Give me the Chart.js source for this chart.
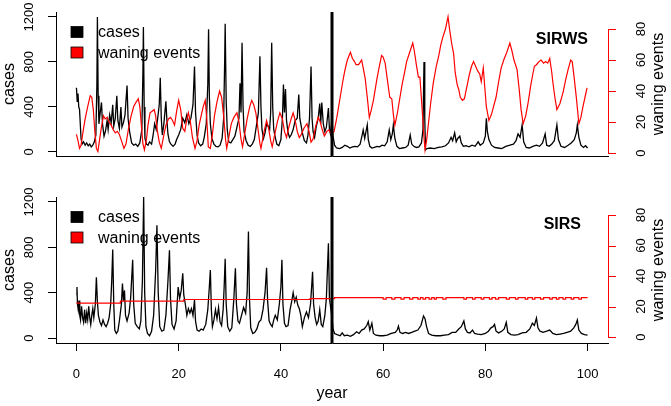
<!DOCTYPE html>
<html>
<head>
<meta charset="utf-8">
<script src="https://cdn.jsdelivr.net/npm/chart.js@4/dist/chart.umd.min.js"></script>
<style>
  body { margin: 0; background: #fff; }
  #wrap { position: relative; width: 671px; height: 406px; }
  canvas { position: absolute; left: 0; }
</style>
</head>
<body>
<div id="wrap">
  <canvas id="top" width="671" height="180" style="top:0"></canvas>
  <canvas id="bottom" width="671" height="226" style="top:180px"></canvas>
</div>
<script>
// ─── Data ────────────────────────────────────────────────────────────────────
const yearTicks = [0, 20, 40, 60, 80, 100];
const caseTicks = [0, 400, 800, 1200];
const waneTicks = [0, 20, 40, 60, 80];
const switchYear = 50;

// SIRWS panel
const sirwsYears = [0,0.15,0.3,0.45,0.6,0.75,0.9,1.1,1.4,1.7,2,2.3,2.6,2.9,3.2,3.5,3.8,4,4.1,4.25,4.4,4.6,4.9,5.1,5.4,5.7,6,6.2,6.5,6.8,7.1,7.3,7.6,7.9,8.1,8.4,8.7,8.9,9.2,9.5,9.9,10.1,10.4,10.8,11.2,11.6,12,12.4,12.8,13,13.1,13.25,13.4,13.7,14,14.3,14.7,15,15.3,15.6,15.9,16.2,16.4,16.6,16.8,17.1,17.5,17.7,17.9,18.2,18.5,18.9,19.3,19.6,20,20.4,20.8,21.2,21.6,22,22.4,22.8,23.1,23.3,23.6,23.9,24.3,24.7,25,25.4,25.7,25.85,26,26.2,26.5,26.9,27.3,27.7,28.1,28.5,28.8,29,29.1,29.3,29.5,29.8,30.2,30.6,31,31.4,31.8,32,32.2,32.4,32.6,32.8,33.2,33.6,34,34.4,34.8,35.2,35.6,35.9,36.1,36.3,36.6,36.9,37.2,37.5,37.8,38,38.2,38.4,38.6,38.9,39.2,39.6,40,40.3,40.5,40.7,40.9,41.1,41.4,41.7,42,42.4,42.8,43.2,43.5,43.7,43.9,44.2,44.6,45,45.3,45.6,45.9,46.1,46.3,46.6,46.9,47.3,47.6,47.8,48,48.3,48.6,48.9,49.3,49.5,49.7,50,50.2,50.5,50.9,51.5,52,52.5,53,53.5,54,54.5,55,55.5,55.9,56.1,56.4,56.6,56.9,57.1,57.4,57.8,58.3,58.8,59.3,59.8,60.3,60.8,61.2,61.5,61.8,62,62.3,62.7,63.2,63.8,64.4,64.9,65.3,65.6,66,66.5,67,67.5,67.8,68,68.15,68.3,68.6,69.2,70,70.8,71.5,72.2,72.8,73.3,73.6,74,74.3,74.6,75,75.3,75.7,76.2,76.8,77.4,78,78.6,79,79.6,80,80.2,80.4,80.7,81.2,81.8,82.5,83.2,84,84.8,85.5,86,86.4,86.8,87.2,87.5,88,88.6,89.3,90,90.6,91.2,91.7,92,92.5,93,93.5,94,94.3,94.8,95.5,96.2,96.8,97.4,97.8,98,98.3,98.7,99.2,99.6,100];
const sirwsCases = [570,450,520,400,380,250,120,70,90,60,80,55,70,45,60,90,150,600,1200,500,250,330,440,250,140,190,280,200,330,260,420,230,300,500,280,210,400,220,260,330,590,300,180,80,60,70,50,80,200,700,1110,400,120,70,60,90,70,150,250,200,300,420,660,300,150,250,450,280,160,90,70,50,70,110,150,200,300,260,330,250,300,420,760,350,150,80,55,70,130,250,600,1090,500,250,120,70,50,45,60,120,300,800,1140,450,200,90,80,110,140,220,300,610,350,970,400,180,100,60,50,70,110,230,350,850,400,200,120,170,250,230,200,350,970,400,200,130,70,55,110,300,600,350,560,280,170,130,150,200,280,300,510,300,250,170,100,80,150,300,760,300,180,130,220,300,430,250,440,250,180,220,390,200,160,300,140,60,35,30,40,60,50,35,45,50,45,70,150,195,120,170,240,110,50,35,40,50,45,60,55,90,195,110,160,240,120,50,30,35,40,60,150,70,50,40,45,80,200,800,300,20,30,35,30,40,45,55,80,130,100,170,90,120,140,80,50,55,45,60,50,90,60,80,140,300,180,110,60,40,35,30,50,60,70,100,160,130,240,90,40,35,50,60,50,80,160,60,50,70,100,240,110,50,40,60,80,110,170,240,130,60,40,55,35];
const sirwsWaneYears = [0,0.3,0.6,0.9,1.3,1.7,2.2,2.7,3,3.3,3.6,3.9,4.2,4.5,4.9,5.3,5.6,6,6.4,6.8,7.2,7.6,8,8.4,8.8,9.3,9.7,10.2,10.7,11.2,11.7,12.1,12.4,12.7,13,13.3,13.7,14,14.4,14.8,15.2,15.5,15.8,16.2,16.6,17,17.5,18,18.4,18.8,19.2,19.6,20,20.4,20.8,21.2,21.6,21.9,22.3,22.7,23.2,23.6,24,24.4,24.8,25.2,25.5,25.8,26.2,26.6,27,27.5,28,28.4,28.8,29.2,29.4,29.8,30.3,30.8,31.4,31.8,32.2,32.5,32.9,33.4,33.9,34.3,34.7,35.1,35.5,35.9,36.1,36.6,37.2,37.6,38,38.3,38.8,39.3,39.8,40.3,40.7,41.1,41.5,42,42.4,42.8,43.2,43.6,44,44.5,45.1,45.5,45.9,46.3,46.8,47.3,47.7,48.1,48.5,49,49.4,49.7,50,50.4,50.9,51.6,52.1,52.5,53,53.6,54,54.4,54.7,55.2,55.6,55.8,56.1,56.5,56.9,57.3,57.7,58.1,58.5,58.8,59.2,59.7,60,60.4,60.8,61.3,61.7,62,62.3,62.8,63.3,63.7,64.2,64.6,64.9,65.3,65.8,66.1,66.5,66.9,67.2,67.6,68,68.2,68.5,68.8,69.3,69.8,70.4,70.9,71.3,71.7,72.2,72.7,73,73.4,73.8,74.1,74.5,74.8,75.1,75.5,75.9,76.4,76.9,77.3,77.7,78.1,78.5,78.9,79.2,79.6,79.9,80.2,80.7,81.2,81.6,82.1,82.6,83.1,83.6,84.2,84.8,85.2,85.6,86.2,86.6,87,87.4,87.9,88.4,88.9,89.3,89.6,90,90.5,90.9,91.4,91.8,92.2,92.6,93,93.2,93.6,94,94.6,95.2,95.7,96.2,96.7,97,97.4,97.8,98.3,98.7,99.1,99.5,99.9];
const sirwsWane = [12,8,3,5,14,22,30,37,36,28,14,3,1,8,17,24,22,23,20,18,15,13,14,12,8,3,6,16,24,30,33,35,30,18,6,2,9,18,26,27,28,24,15,7,3,10,18,22,23,21,18,27,34,28,16,14,22,26,20,10,3,8,18,24,30,34,22,4,3,12,24,33,40,36,24,8,3,10,19,23,26,20,9,4,12,22,30,34,31,26,16,6,3,12,21,16,8,4,12,20,26,22,14,10,16,22,26,21,14,10,12,16,19,14,7,9,17,23,20,15,11,14,15,13,12.5,14,22,36,46,53,60,65,61,59,57,57,59,60,55,48,36,23,28,34,42,48,55,63,62,58,48,36,35,25,18,26,36,44,52,59,62,66,71,66,57,49,49,30,10,2,8,17,32,45,56,63,70,75,80,88,80,71,64,52,44,41,36,34,35,43,51,56,59,56,53,51,46,55,42,30,21,25,30,36,46,55,60,65,71,66,60,54,42,28,19,24,33,44,51,56,57,59,60,58,59,58,61,52,46,36,28,32,39,47,54,60,59,48,36,19,23,30,36,42];

// SIRS panel
const sirsYears = [0,0.1,0.2,0.35,0.5,0.65,0.8,1,1.2,1.4,1.6,1.8,2,2.2,2.4,2.6,2.8,3,3.2,3.4,3.7,3.9,4.1,4.3,4.6,4.9,5.2,5.5,5.8,6.1,6.4,6.7,6.9,7.1,7.3,7.5,7.8,8.1,8.4,8.8,9,9.2,9.4,9.6,9.9,10.3,10.6,11,11.2,11.5,11.9,12.3,12.6,12.9,13.15,13.35,13.6,13.9,14.3,14.7,15.1,15.5,15.75,16,16.3,16.7,17.1,17.5,17.9,18.2,18.4,18.7,19.1,19.5,19.9,20.2,20.5,20.8,21,21.3,21.6,21.9,22.2,22.5,22.8,23.1,23.3,23.6,24,24.4,24.8,25.3,25.7,26,26.2,26.4,26.6,26.9,27.2,27.5,27.8,28.1,28.4,28.7,28.9,29.1,29.3,29.6,30,30.4,30.8,31.1,31.3,31.6,31.9,32.3,32.7,33.1,33.4,33.65,33.85,34.1,34.5,34.9,35.3,35.7,36.1,36.5,36.9,37.2,37.4,37.7,38,38.3,38.6,38.9,39.3,39.7,40,40.2,40.4,40.7,41,41.4,41.8,42.1,42.4,42.7,43,43.3,43.6,43.9,44.2,44.6,45,45.4,45.8,46.2,46.4,46.7,47,47.3,47.6,47.9,48.2,48.6,48.9,49.1,49.3,49.5,49.8,50,50.2,50.5,51,51.6,52,52.4,53,53.6,54.2,54.8,55.3,55.8,56.3,56.8,57.1,57.4,57.8,58.1,58.6,59.3,60,60.8,61.6,62.4,62.8,63,63.3,63.8,64.4,65,65.6,66.2,66.8,67.4,67.7,67.9,68.2,68.5,68.9,69.5,70.3,71.2,72,72.8,73.5,74.2,74.8,75.3,75.8,76.1,76.5,77,77.5,77.9,78.5,79.2,80,80.6,81.1,81.5,81.8,82.1,82.6,83.2,83.7,84.1,84.4,85,85.7,86.4,87.2,88,88.7,89.2,89.6,90,90.3,90.7,91.3,92,92.6,93.2,93.9,94.6,95.3,96,96.7,97.3,97.7,98,98.3,98.8,99.4,100];
const sirsCases = [380,450,300,250,330,200,160,280,180,140,250,130,220,160,280,180,120,200,260,180,300,535,320,200,140,110,160,120,100,130,180,300,500,780,300,70,40,60,150,300,480,330,420,200,150,220,350,690,300,130,100,80,150,500,1245,400,100,40,20,60,200,600,995,400,100,60,70,200,500,775,350,120,80,150,450,350,420,570,380,300,200,260,220,260,200,335,150,70,60,80,70,120,250,450,600,250,100,160,250,170,270,140,110,250,450,700,300,100,60,90,350,615,300,150,130,200,270,220,400,940,350,90,40,50,80,140,160,250,400,620,330,150,120,100,160,200,160,300,450,690,300,130,100,110,250,320,400,320,360,290,260,200,100,180,230,180,300,585,300,180,120,150,250,120,100,200,350,600,835,350,250,180,80,40,30,20,45,20,25,15,30,55,40,70,80,110,145,70,130,40,25,20,20,25,40,50,75,105,50,40,50,40,50,60,70,110,160,195,170,100,40,25,20,20,25,30,50,50,80,100,150,80,50,45,70,40,35,30,40,60,90,100,120,60,45,60,80,138,50,30,25,30,45,50,80,130,110,175,90,60,50,60,70,40,30,35,40,50,60,90,120,160,70,40,30,25];
const sirsWaneYears = [0,8.6,21,45.7,50.5,60,60.6,61.7,62.3,63.5,64.1,65.2,65.8,66.8,67.3,67.8,68.3,69,69.5,70,70.4,71.7,72.3,75.8,76.3,77.5,78,79.2,79.7,80.8,81.3,82,82.6,84.1,84.7,85.9,86.4,87.8,88.3,89.2,89.7,90.8,91.4,92.6,93.1,93.9,94.4,95.2,95.7,96.8,97.3,98.3,98.8,100];
const sirsWane = [22.3,23.5,24.6,25.2,25.8,24.8,25.8,24.8,25.8,24.8,25.8,24.8,25.8,24.8,25.8,24.8,25.8,24.8,25.8,24.8,25.8,24.8,25.8,24.8,25.8,24.8,25.8,24.8,25.8,24.8,25.8,24.8,25.8,24.8,25.8,24.8,25.8,24.8,25.8,24.8,25.8,24.8,25.8,24.8,25.8,24.8,25.8,24.8,25.8,24.8,25.8,24.8,25.8,25.8];

// ─── Shared styling ──────────────────────────────────────────────────────────
const FONT = "'Liberation Sans', Arial, Helvetica, sans-serif";
const RED  = "#ff0000";

const zip = (xs, ys) => xs.map((x, i) => ({ x, y: ys[i] }));

function upText(ctx, text, x, y, size, bold) {
    // text reading bottom to top, baseline on the right
    ctx.save();
    ctx.translate(x, y);
    ctx.rotate(-Math.PI / 2);
    ctx.font = (bold ? "bold " : "") + size + "px " + FONT;
    ctx.textAlign = "center";
    ctx.textBaseline = "alphabetic";
    ctx.fillText(text, 0, 0);
    ctx.restore();
}

// ─── Plugin: regime line, rotated axis text, right axis, legend ─────────────
const panelDecor = {
    id: "panelDecor",
    afterDatasetsDraw(chart) {
        const { ctx, chartArea: a, scales: { x } } = chart;
        const sx = x.getPixelForValue(switchYear);
        ctx.save();
        ctx.strokeStyle = "#000";
        ctx.lineWidth = 3;
        ctx.beginPath();
        ctx.moveTo(sx, a.top);
        ctx.lineTo(sx, a.bottom);
        ctx.stroke();
        ctx.restore();
    },
    afterDraw(chart, args, opts) {
        const { ctx, chartArea: a, scales: { y, y2 } } = chart;
        const midY = (a.top + a.bottom) / 2;

        // left axis labels
        ctx.fillStyle = "#000";
        caseTicks.forEach(v => upText(ctx, String(v), 33, y.getPixelForValue(v), 13));
        upText(ctx, "cases", 13.5, midY, 16);

        // right axis in red, spanning only its ticks
        const r = a.right;
        const y0 = y2.getPixelForValue(waneTicks[0]);
        const y1 = y2.getPixelForValue(waneTicks[waneTicks.length - 1]);
        ctx.save();
        ctx.strokeStyle = RED;
        ctx.lineWidth = 1;
        ctx.beginPath();
        ctx.moveTo(r + 0.5, y0);
        ctx.lineTo(r + 0.5, y1);
        waneTicks.forEach(v => {
            const py = Math.round(y2.getPixelForValue(v)) + 0.5;
            ctx.moveTo(r, py);
            ctx.lineTo(r + 8, py);
        });
        ctx.stroke();
        ctx.restore();
        ctx.fillStyle = "#000";
        waneTicks.forEach(v => upText(ctx, String(v), 645, y2.getPixelForValue(v), 13));
        upText(ctx, "waning events", 663, midY, 16);

        // legend
        const rows = [["cases", "#000"], ["waning events", RED]];
        rows.forEach(([label, col], i) => {
            const cy = a.top + 20 + i * 20.5;
            ctx.fillStyle = col;
            ctx.fillRect(71, cy - 5.5, 12, 11);
            ctx.strokeStyle = "#000";
            ctx.lineWidth = 0.8;
            ctx.strokeRect(71, cy - 5.5, 12, 11);
            ctx.fillStyle = "#000";
            ctx.font = "16px " + FONT;
            ctx.textAlign = "left";
            ctx.textBaseline = "middle";
            ctx.fillText(label, 98, cy + 1);
        });

        // model name
        ctx.font = "bold 16px " + FONT;
        ctx.textAlign = "right";
        ctx.textBaseline = "middle";
        ctx.fillText(opts.name, opts.nameRight, a.top + 28);
    },
};

function makePanel(id, p) {
    return new Chart(document.getElementById(id), {
        type: "line",
        data: {
            datasets: [
                // red drawn over black, as in the original
                { data: zip(p.waneYears, p.wane), yAxisID: "y2", order: 0,
                  borderColor: RED, borderWidth: 1.2, stepped: p.stepped || false },
                { data: zip(p.caseYears, p.cases), yAxisID: "y", order: 1,
                  borderColor: "#000", borderWidth: 1.3 },
            ],
        },
        options: {
            responsive: false,
            animation: false,
            devicePixelRatio: 1,
            layout: { padding: { top: p.padTop, right: 63, left: 0, bottom: 0 } },
            elements: { point: { radius: 0 }, line: { tension: 0 } },
            plugins: {
                legend: { display: false },
                tooltip: { enabled: false },
                panelDecor: { name: p.name, nameRight: p.nameRight },
            },
            scales: {
                x: {
                    type: "linear", min: -4, max: 104,
                    afterBuildTicks: s => { s.ticks = yearTicks.map(v => ({ value: v })); },
                    afterFit: s => { s.height = p.xHeight; },
                    border: { color: "#000", width: 1 },
                    grid: { drawOnChartArea: false, drawTicks: p.showYears, tickLength: 8, color: "#000" },
                    ticks: { display: p.showYears, color: "#000", padding: 16,
                             font: { family: FONT, size: 13 }, maxRotation: 0 },
                    title: { display: p.showYears, text: "year", color: "#000",
                             font: { family: FONT, size: 16 }, padding: { top: 0, bottom: 3 } },
                },
                y: {
                    position: "left", min: p.caseMin, max: p.caseMax,
                    afterBuildTicks: s => { s.ticks = caseTicks.map(v => ({ value: v })); },
                    afterFit: s => { s.width = 56; },
                    border: { color: "#000", width: 1 },
                    grid: { drawOnChartArea: false, tickLength: 8, color: "#000" },
                    ticks: { display: false },
                },
                y2: { display: false, position: "right", min: p.waneMin, max: p.waneMax },
            },
        },
        plugins: [panelDecor],
    });
}

makePanel("top", {
    caseYears: sirwsYears, cases: sirwsCases,
    waneYears: sirwsWaneYears, wane: sirwsWane,
    name: "SIRWS", nameRight: 588,
    padTop: 12, xHeight: 24, showYears: false,
    caseMin: -36, caseMax: 1244, waneMin: -1.9, waneMax: 91,
});

makePanel("bottom", {
    caseYears: sirsYears, cases: sirsCases,
    waneYears: sirsWaneYears, wane: sirsWane, stepped: "before",
    name: "SIRS", nameRight: 581,
    padTop: 17, xHeight: 63, showYears: true,
    caseMin: -44, caseMax: 1244, waneMin: -3.9, waneMax: 91.8,
});
</script>
</body>
</html>
